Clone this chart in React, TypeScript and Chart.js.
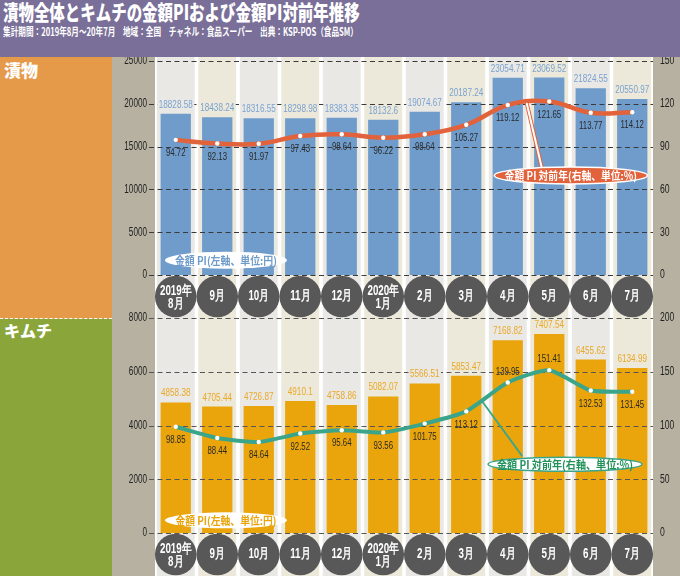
import React, { useEffect, useLayoutEffect, useRef } from "react";
import { Chart, registerables } from "chart.js";

Chart.register(...registerables);

// ---------- data ----------
const monthLabels: string[][] = [
  ["2019年", "8月"], ["9月"], ["10月"], ["11月"], ["12月"], ["2020年", "1月"],
  ["2月"], ["3月"], ["4月"], ["5月"], ["6月"], ["7月"],
];

const pickleAmountPI = [18828.58, 18438.24, 18316.55, 18298.98, 18383.35, 18132.6, 19074.67, 20187.24, 23054.71, 23069.52, 21824.55, 20550.97];
const pickleYoY = [94.72, 92.13, 91.97, 97.43, 98.64, 96.22, 98.64, 105.27, 119.12, 121.65, 113.77, 114.12];
const kimchiAmountPI = [4858.38, 4705.44, 4726.87, 4910.1, 4758.86, 5082.07, 5566.51, 5853.47, 7168.82, 7407.54, 6455.62, 6134.99];
const kimchiYoY = [98.85, 88.44, 84.64, 92.52, 95.64, 93.56, 101.75, 113.12, 139.95, 151.41, 132.53, 131.45];

const pickleLeftTicks = [0, 5000, 10000, 15000, 20000, 25000];
const pickleRightTicks = [0, 30, 60, 90, 120, 150];
const kimchiLeftTicks = [0, 2000, 4000, 6000, 8000];
const kimchiRightTicks = [0, 50, 100, 150, 200];

const titleText = "漬物全体とキムチの金額PIおよび金額PI対前年推移";
const subtitleText = "集計期間：2019年8月～20年7月　地域：全国　チャネル：食品スーパー　出典：KSP-POS（食品SM）";
const leftCalloutText = "金額 PI(左軸、単位:円)";
const rightCalloutText = "金額 PI 対前年(右軸、単位:%)";

// ---------- style ----------
const NUM_FONT = '"Liberation Sans", Arial, sans-serif';
const CJK_FONT = '"Noto Sans CJK JP", "Noto Sans", sans-serif';

function condText(ctx: CanvasRenderingContext2D, text: string, x: number, y: number, font: string, color: string, targetW?: number, sx = 1, knockout?: string) {
  ctx.save();
  ctx.font = font;
  ctx.textAlign = "center";
  ctx.textBaseline = "middle";
  const w = ctx.measureText(text).width;
  const s = targetW ? targetW / w : sx;
  if (knockout) {
    ctx.fillStyle = knockout;
    ctx.fillRect(x - (w * s) / 2 - 1.5, y - 5.5, w * s + 3, 11);
  }
  ctx.fillStyle = color;
  ctx.translate(x, y);
  ctx.scale(s, 1);
  ctx.fillText(text, 0, 0);
  ctx.restore();
}

// compress a y-axis's tick labels horizontally around their common anchor
function condenseAxis(scale: any, anchor: () => number, sx: number) {
  if (scale.__condensed) return;
  const orig = scale.drawLabels.bind(scale);
  scale.drawLabels = (ca: any) => {
    const ctx = scale.ctx;
    const a = anchor();
    ctx.save();
    ctx.translate(a, 0);
    ctx.scale(sx, 1);
    ctx.translate(-a, 0);
    orig(ca);
    ctx.restore();
  };
  scale.__condensed = true;
}

const decoPlugin = {
  id: "deco",
  beforeDraw(chart: any, _a: any, opts: any) {
    const { ctx, chartArea: ca, scales } = chart;
    const x = scales.x;
    const n = chart.data.labels.length;
    condenseAxis(scales.y, () => scales.y.right - scales.y.options.ticks.padding, 0.68);
    condenseAxis(scales.y1, () => scales.y1.left + scales.y1.options.ticks.padding, 0.72);
    ctx.save();
    const bandTop = opts.bandFromChartTop ? ca.top : 0;
    for (let i = 0; i < n; i++) {
      const l = x.getPixelForValue(i - 0.5);
      const r = x.getPixelForValue(i + 0.5);
      ctx.fillStyle = opts.bands[i % 2];
      ctx.fillRect(l + 1.8, bandTop, r - l - 3.6, chart.height - bandTop);
    }
    ctx.fillStyle = opts.circleColor;
    for (let i = 0; i < n; i++) {
      ctx.beginPath();
      ctx.arc(x.getPixelForValue(i), ca.bottom + 21.5, 20.8, 0, Math.PI * 2);
      ctx.fill();
    }
    ctx.restore();
    // category labels inside the circles
    const labels = chart.data.labels as string[][];
    labels.forEach((lab, i) => {
      const cx = x.getPixelForValue(i);
      const cy = ca.bottom + 21.5;
      const f = `bold 14px ${NUM_FONT}`;
      if (lab.length === 1) {
        condText(ctx, lab[0], cx, cy - 0.5, f, "#ffffff", undefined, 0.7);
      } else {
        condText(ctx, lab[0], cx, cy - 5.5, f, "#ffffff", undefined, 0.7);
        condText(ctx, lab[1], cx, cy + 7.5, f, "#ffffff", undefined, 0.7);
      }
    });
  },
  afterDatasetDraw(chart: any, args: any, opts: any) {
    if (args.meta.type !== "bar") return;
    const { ctx, chartArea: ca, scales } = chart;
    const y = scales.y;
    ctx.save();
    ctx.strokeStyle = opts.gridColor;
    ctx.lineWidth = 1;
    ctx.setLineDash([5, 3.5]);
    y.ticks.forEach((t: any) => {
      const py = Math.round(y.getPixelForValue(t.value)) + 0.5;
      ctx.beginPath();
      ctx.moveTo(ca.left - 6, py);
      ctx.lineTo(ca.right, py);
      ctx.stroke();
    });
    ctx.restore();
  },
  afterDatasetsDraw(chart: any, _a: any, opts: any) {
    const { ctx, scales } = chart;
    const barMeta = chart.getDatasetMeta(0);
    const lineMeta = chart.getDatasetMeta(1);
    const bars = chart.data.datasets[0].data as number[];
    const line = chart.data.datasets[1].data as number[];
    barMeta.data.forEach((el: any, i: number) => {
      condText(ctx, String(bars[i]), el.x, el.y - 9, `11px ${NUM_FONT}`, opts.barLabelColor, undefined, 0.74, opts.bands[i % 2]);
    });
    lineMeta.data.forEach((el: any, i: number) => {
      const above = opts.aboveIdx.includes(i);
      condText(ctx, String(line[i]), el.x, above ? el.y - 11 : el.y + 13, `11.5px ${NUM_FONT}`, "#2a2a2a", undefined, 0.68);
    });
    // pointer line
    const p = opts.pointer;
    if (p) {
      const x0 = scales.x.getPixelForValue(p.from[0]);
      const y0 = scales.y1.getPixelForValue(p.from[1]);
      const x1 = scales.x.getPixelForValue(p.to[0]);
      const y1 = scales.y1.getPixelForValue(p.to[1]);
      ctx.save();
      ctx.lineCap = "round";
      ctx.strokeStyle = p.outer;
      ctx.lineWidth = p.width;
      ctx.beginPath(); ctx.moveTo(x0, y0); ctx.lineTo(x1, y1); ctx.stroke();
      if (p.inner) {
        ctx.strokeStyle = p.inner;
        ctx.lineWidth = p.width - 2;
        ctx.beginPath(); ctx.moveTo(x0, y0); ctx.lineTo(x1, y1); ctx.stroke();
      }
      ctx.restore();
    }
    // callouts
    opts.callouts.forEach((c: any) => {
      const cx = scales.x.getPixelForValue(c.x);
      const cy = scales[c.axis].getPixelForValue(c.y);
      ctx.save();
      ctx.beginPath();
      ctx.ellipse(cx, cy, c.w / 2, c.h / 2, 0, 0, Math.PI * 2);
      ctx.fillStyle = c.fill;
      ctx.fill();
      if (c.stroke) {
        ctx.lineWidth = c.strokeWidth;
        ctx.strokeStyle = c.stroke;
        ctx.stroke();
      }
      ctx.restore();
      condText(ctx, c.text, cx, cy + 0.5, `bold 11px ${CJK_FONT}`, c.color, c.textW);
    });
  },
};

type PanelProps = {
  top: number;
  height: number;
  padTop: number;
  amount: number[];
  yoy: number[];
  leftTicks: number[];
  rightTicks: number[];
  barColor: string;
  barLabelColor: string;
  lineColor: string;
  lineWidth: number;
  tension: number;
  gridColor: string;
  bandFromChartTop: boolean;
  aboveIdx: number[];
  callouts: any[];
  pointer: any;
};

function Panel(props: PanelProps) {
  const ref = useRef<HTMLCanvasElement>(null);
  useEffect(() => {
    const lt = props.leftTicks;
    const rt = props.rightTicks;
    const chart = new Chart(ref.current as HTMLCanvasElement, {
      type: "bar",
      data: {
        labels: monthLabels as any,
        datasets: [
          {
            type: "bar",
            data: props.amount,
            backgroundColor: props.barColor,
            yAxisID: "y",
            order: 1,
            categoryPercentage: 0.73,
            barPercentage: 1,
          } as any,
          {
            type: "line",
            data: props.yoy,
            borderColor: props.lineColor,
            borderWidth: props.lineWidth,
            tension: props.tension,
            pointRadius: 2.2,
            pointBackgroundColor: "#ffffff",
            pointBorderWidth: 0,
            yAxisID: "y1",
            order: 0,
          } as any,
        ],
      },
      options: {
        responsive: false,
        animation: false,
        layout: { padding: { top: props.padTop, left: 0, right: 0, bottom: 0 } },
        plugins: {
          legend: { display: false },
          tooltip: { enabled: false },
          deco: {
            bands: ["#e9e8e5", "#ece8da"],
            circleColor: "#585858",
            gridColor: props.gridColor,
            barLabelColor: props.barLabelColor,
            aboveIdx: props.aboveIdx,
            callouts: props.callouts,
            pointer: props.pointer,
            bandFromChartTop: props.bandFromChartTop,
          },
        } as any,
        scales: {
          x: {
            type: "category",
            grid: { display: false, drawTicks: false },
            border: { display: false },
            ticks: { display: false },
            afterFit: (s: any) => { s.height = 43; s.paddingLeft = 0; s.paddingRight = 0; },
          } as any,
          y: {
            type: "linear",
            position: "left",
            min: lt[0],
            max: lt[lt.length - 1],
            grid: { display: false, drawTicks: false },
            border: { display: false },
            ticks: {
              stepSize: lt[1] - lt[0],
              color: "#222222",
              font: { size: 12, family: NUM_FONT },
              padding: 8,
              callback: (v: any) => String(v),
            },
            afterFit: (s: any) => { s.width = 43; s.paddingTop = 0; s.paddingBottom = 0; },
          } as any,
          y1: {
            type: "linear",
            position: "right",
            min: rt[0],
            max: rt[rt.length - 1],
            grid: { display: false, drawTicks: false },
            border: { display: false },
            ticks: {
              stepSize: rt[1] - rt[0],
              color: "#222222",
              font: { size: 12, family: NUM_FONT },
              padding: 7,
              callback: (v: any) => String(v),
            },
            afterFit: (s: any) => { s.width = 27; s.paddingTop = 0; s.paddingBottom = 0; },
          } as any,
        },
      },
      plugins: [decoPlugin as any],
    });
    return () => chart.destroy();
  }, []);
  return (
    <canvas
      ref={ref}
      width={568}
      height={props.height}
      style={{ position: "absolute", left: 112, top: props.top, width: 568, height: props.height, display: "block" }}
    />
  );
}

function FitText({ text, left, top, width, style }: { text: string; left: number; top: number; width: number; style: React.CSSProperties }) {
  const ref = useRef<HTMLDivElement>(null);
  useLayoutEffect(() => {
    const el = ref.current;
    if (!el) return;
    const w = el.scrollWidth;
    if (w > 0) el.style.transform = `scaleX(${width / w})`;
  }, []);
  return (
    <div
      ref={ref}
      style={{ position: "absolute", left, top, whiteSpace: "nowrap", transformOrigin: "0 0", display: "inline-block", ...style }}
    >
      {text}
    </div>
  );
}

export default function App() {
  useEffect(() => {
    document.body.style.margin = "0";
  }, []);

  return (
    <div style={{ position: "absolute", left: 0, top: 0, width: 680, height: 576, overflow: "hidden", background: "#ffffff" }}>
      {/* header */}
      <div style={{ position: "absolute", left: 0, top: 0, width: 680, height: 57, background: "#7a6f98" }} />
      <FitText text={titleText} left={3} top={-2} width={357}
        style={{ fontFamily: CJK_FONT, fontWeight: 900, fontSize: 21, lineHeight: "26px", color: "#ffffff" }} />
      <FitText text={subtitleText} left={3} top={24} width={355}
        style={{ fontFamily: CJK_FONT, fontWeight: 700, fontSize: 11, lineHeight: "14px", color: "#ffffff" }} />

      {/* side columns */}
      <div style={{ position: "absolute", left: 0, top: 57, width: 112, height: 262, background: "#e59a4a" }} />
      <div style={{ position: "absolute", left: 0, top: 319, width: 112, height: 257, background: "#8aa63a" }} />
      <div style={{ position: "absolute", left: 0, top: 318, width: 112, height: 0, borderTop: "1px dashed #ffffff" }} />
      <div style={{ position: "absolute", left: 112, top: 57, width: 43, height: 519, background: "#b7b1a1" }} />
      <div style={{ position: "absolute", left: 653, top: 57, width: 27, height: 519, background: "#b7b1a1" }} />
      <div style={{ position: "absolute", left: 4, top: 59, fontFamily: CJK_FONT, fontWeight: 900, fontSize: 17, lineHeight: "22px", color: "#ffffff" }}>漬物</div>
      <div style={{ position: "absolute", left: 4, top: 319, fontFamily: CJK_FONT, fontWeight: 900, fontSize: 16, lineHeight: "22px", color: "#ffffff" }}>キムチ</div>

      <Panel
        top={57}
        height={261}
        padTop={2}
        amount={pickleAmountPI}
        yoy={pickleYoY}
        leftTicks={pickleLeftTicks}
        rightTicks={pickleRightTicks}
        barColor="#6f9ccb"
        barLabelColor="#7aa3cf"
        lineColor="#e2623b"
        lineWidth={4.5}
        tension={0.4}
        gridColor="#3a3a3a"
        bandFromChartTop={false}
        aboveIdx={[]}
        pointer={{ from: [8.46, 120.1], to: [8.83, 74], outer: "#e2623b", inner: "#ffffff", width: 4 }}
        callouts={[
          { x: 1.21, y: 1736, axis: "y", w: 122, h: 17, fill: "#ffffff", stroke: null, color: "#6f9ccb", text: leftCalloutText, textW: 102 },
          { x: 9.52, y: 69.8, axis: "y1", w: 153, h: 17, fill: "#e2623b", stroke: "#ffffff", strokeWidth: 1.5, color: "#ffffff", text: rightCalloutText, textW: 132 },
        ]}
      />
      <Panel
        top={312}
        height={264}
        padTop={6}
        amount={kimchiAmountPI}
        yoy={kimchiYoY}
        leftTicks={kimchiLeftTicks}
        rightTicks={kimchiRightTicks}
        barColor="#e9a50b"
        barLabelColor="#eaa928"
        lineColor="#3aa58b"
        lineWidth={4}
        tension={0.2}
        gridColor="#555555"
        bandFromChartTop={true}
        aboveIdx={[8, 9]}
        pointer={{ from: [7.4, 121.7], to: [8.34, 72], outer: "#3aa58b", inner: null, width: 1.8 }}
        callouts={[
          { x: 1.21, y: 473, axis: "y", w: 122, h: 16, fill: "#ffffff", stroke: null, color: "#e9a50b", text: leftCalloutText, textW: 101 },
          { x: 9.38, y: 64, axis: "y1", w: 154, h: 14, fill: "#ffffff", stroke: "#3aa58b", strokeWidth: 1.5, color: "#23915a", text: rightCalloutText, textW: 136 },
        ]}
      />
    </div>
  );
}
